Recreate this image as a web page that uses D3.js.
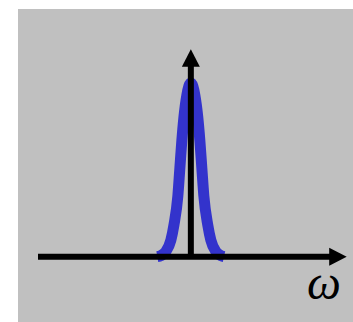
<!DOCTYPE html>
<html>
<head>
<meta charset="utf-8">
<script src="https://cdn.jsdelivr.net/npm/d3@7"></script>
<style>
  html, body { margin: 0; padding: 0; background: #ffffff; }
  svg { display: block; }
</style>
</head>
<body>
<svg id="chart" width="353" height="322"></svg>
<script>
// Frequency axis extent and the height the vertical axis reaches
const omegaExtent = [-15.3, 15.6];
const amplitudeTop = 1.195;

// Narrow spectral peak centred on ω = 0
const peakOmega = [-3.36, -3.0, -2.5, -2.0, -1.7, -1.3, -1.1, -0.9, -0.7, -0.4, 0,
                   0.4, 0.7, 0.9, 1.1, 1.3, 1.7, 2.0, 2.5, 3.0, 3.32];
const peakAmplitude = [0, 0.006, 0.03, 0.095, 0.18, 0.35, 0.51, 0.67, 0.80, 0.93, 1,
                       0.93, 0.80, 0.67, 0.51, 0.35, 0.18, 0.095, 0.03, 0.006, 0];

const axisLabel = "ω";

const svg = d3.select("#chart");

// Grey panel
svg.append("rect")
  .attr("x", 18).attr("y", 9)
  .attr("width", 335).attr("height", 313)
  .attr("fill", "#c0c0c0");

const x = d3.scaleLinear().domain(omegaExtent).range([38, 346.7]);
const y = d3.scaleLinear().domain([0, 1]).range([256.7, 83]);

const peak = peakOmega.map((w, i) => ({ w, a: peakAmplitude[i] }));

const line = d3.line()
  .x(d => x(d.w))
  .y(d => y(d.a))
  .curve(d3.curveMonotoneX);

svg.append("path")
  .datum(peak)
  .attr("d", line)
  .attr("fill", "none")
  .attr("stroke", "#3333cc")
  .attr("stroke-width", 11)
  .attr("stroke-linecap", "butt")
  .attr("stroke-linejoin", "round");

// Axes with arrow heads
const head = 17.5, halfW = 9;
const x0 = x(0), y0 = y(0);
const xEnd = x(omegaExtent[1]);
const yEnd = y(amplitudeTop);

svg.append("line")
  .attr("x1", x(omegaExtent[0])).attr("y1", y0)
  .attr("x2", xEnd - head + 1).attr("y2", y0)
  .attr("stroke", "#000").attr("stroke-width", 6);
svg.append("path")
  .attr("d", `M${xEnd},${y0}L${xEnd - head},${y0 - halfW}L${xEnd - head},${y0 + halfW}Z`)
  .attr("fill", "#000");

svg.append("line")
  .attr("x1", x0).attr("y1", y0)
  .attr("x2", x0).attr("y2", yEnd + head - 1)
  .attr("stroke", "#000").attr("stroke-width", 6);
svg.append("path")
  .attr("d", `M${x0},${yEnd}L${x0 - halfW},${yEnd + head}L${x0 + halfW},${yEnd + head}Z`)
  .attr("fill", "#000");

svg.append("text")
  .attr("x", 324).attr("y", 299)
  .attr("text-anchor", "middle")
  .attr("font-family", "'Liberation Serif', 'DejaVu Serif', serif")
  .attr("font-style", "italic")
  .attr("font-size", 48)
  .attr("fill", "#000")
  .text(axisLabel);
</script>
</body>
</html>
